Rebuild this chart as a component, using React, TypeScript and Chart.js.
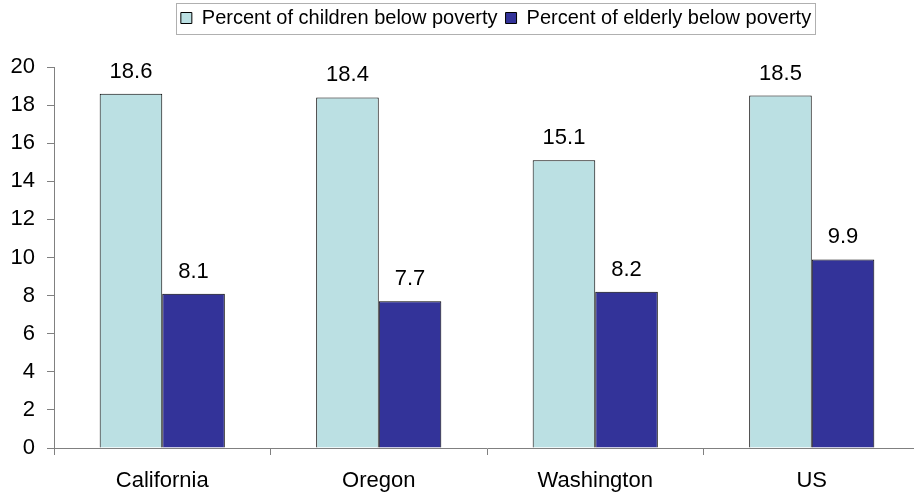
import React, { useEffect, useRef } from "react";
import { Chart, registerables } from "chart.js";

Chart.register(...registerables);

const categories = ["California", "Oregon", "Washington", "US"];
const seriesNames = ["Percent of children below poverty", "Percent of elderly below poverty"];
const childrenBelowPoverty = [18.6, 18.4, 15.1, 18.5];
const elderlyBelowPoverty = [8.1, 7.7, 8.2, 9.9];
const yMin = 0;
const yMax = 20;
const yStep = 2;

const FONT = "'Liberation Sans', Arial, sans-serif";

const legendTweak = {
  id: "legendTweak",
  afterInit(chart: any) {
    const lg = chart.legend;
    if (lg && !lg.__patched) {
      const fit = lg.fit.bind(lg);
      lg.fit = function () {
        fit();
        this.height = 67;
      };
      lg.__patched = true;
    }
  },
  afterLayout(chart: any) {
    const lg = chart.legend;
    if (!lg || !lg.lineWidths) return;
    const pad = lg.options.labels.padding;
    const lw = lg.lineWidths[0];
    const current = (lg.left + pad + lg.right - lw) / 2;
    const desired = 500 - lw / 2;
    const dx = desired - current;
    lg.left += dx;
    lg.right += dx;
  },
  afterDraw(chart: any) {
    const lg = chart.legend;
    if (!lg || !lg.legendHitBoxes || !lg.legendHitBoxes.length) return;
    const boxes = lg.legendHitBoxes;
    const first = boxes[0];
    const last = boxes[boxes.length - 1];
    const ctx = chart.ctx;
    ctx.save();
    ctx.strokeStyle = "#b0b0b0";
    ctx.lineWidth = 1;
    const l = Math.round(first.left - 5) + 0.5;
    const r = Math.round(last.left + last.width + 4) + 0.5;
    ctx.strokeRect(l, 3.5, r - l, 31);
    ctx.restore();
  },
};

const valueLabels = {
  id: "valueLabels",
  afterDatasetsDraw(chart: any) {
    const ctx = chart.ctx;
    ctx.save();
    ctx.font = `22px ${FONT}`;
    ctx.fillStyle = "#000";
    ctx.textAlign = "center";
    ctx.textBaseline = "alphabetic";
    chart.data.datasets.forEach((ds: any, i: number) => {
      const meta = chart.getDatasetMeta(i);
      meta.data.forEach((el: any, j: number) => {
        ctx.fillText(String(ds.data[j]), el.x, el.y - 16);
      });
    });
    ctx.restore();
  },
};

export default function App() {
  const ref = useRef<HTMLCanvasElement | null>(null);

  useEffect(() => {
    if (!ref.current) return;
    const chart = new Chart(ref.current, {
      type: "bar",
      data: {
        labels: categories,
        datasets: [
          {
            label: seriesNames[0],
            data: childrenBelowPoverty,
            backgroundColor: "#BBE0E3",
            borderColor: "#000000",
            borderWidth: 1,
            categoryPercentage: 0.578,
            barPercentage: 1.0,
          },
          {
            label: seriesNames[1],
            data: elderlyBelowPoverty,
            backgroundColor: "#333399",
            borderColor: "#000000",
            borderWidth: 1,
            categoryPercentage: 0.578,
            barPercentage: 1.0,
          },
        ],
      },
      options: {
        responsive: false,
        animation: false,
        devicePixelRatio: 1,
        layout: { padding: { left: 0, right: 10, top: 0, bottom: 0 } },
        plugins: {
          legend: {
            position: "top",
            labels: {
              boxWidth: 11,
              boxHeight: 11,
              padding: 8,
              color: "#000",
              font: { family: FONT, size: 20 },
            },
          },
          tooltip: { enabled: false },
        },
        scales: {
          x: {
            afterFit(scale: any) {
              scale.height = 47;
            },
            border: { color: "#808080", width: 1 },
            grid: {
              offset: true,
              drawOnChartArea: false,
              drawTicks: true,
              tickLength: 7,
              color: "#808080",
            },
            ticks: {
              color: "#000",
              font: { family: FONT, size: 22 },
              padding: 13,
              maxRotation: 0,
            },
          },
          y: {
            min: yMin,
            max: yMax,
            afterFit(scale: any) {
              scale.width = 54;
            },
            border: { color: "#808080", width: 1 },
            grid: {
              drawOnChartArea: false,
              drawTicks: true,
              tickLength: 7,
              color: "#808080",
            },
            ticks: {
              stepSize: yStep,
              color: "#000",
              font: { family: FONT, size: 22 },
              padding: 12,
            },
          },
        },
      },
      plugins: [legendTweak, valueLabels],
    });
    return () => chart.destroy();
  }, []);

  return (
    <div
      style={{
        position: "fixed",
        top: 0,
        left: 0,
        width: 914,
        height: 495,
        overflow: "hidden",
        background: "#fff",
      }}
    >
      <canvas ref={ref} width={930} height={495} style={{ display: "block" }} />
    </div>
  );
}
